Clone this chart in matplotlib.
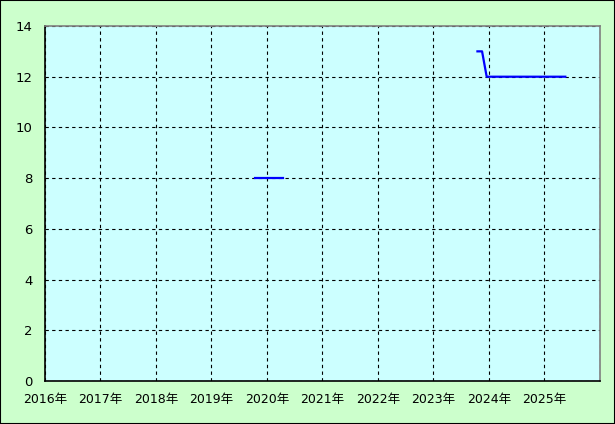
import matplotlib
matplotlib.use("Agg")
import matplotlib.pyplot as plt
import numpy as np

plt.rcParams['font.family'] = ['DejaVu Sans', 'Noto Sans CJK JP']

# monthly series, x = year + (month - 0.5) / 12
months_a = [(2019, 10), (2019, 11), (2019, 12), (2020, 1), (2020, 2), (2020, 3), (2020, 4)]
values_a = [8, 8, 8, 8, 8, 8, 8]

months_b = [(2023, 10), (2023, 11), (2023, 12)] + [(2024, m) for m in range(1, 13)] + [(2025, m) for m in range(1, 6)]
values_b = [13, 13] + [12] * 18

years = list(range(2016, 2027))
year_labels = [f"{y}年" for y in range(2016, 2026)] + [""]
y_ticks = [0, 2, 4, 6, 8, 10, 12, 14]


def to_x(ms):
    return [y + (m - 0.5) / 12 for y, m in ms]


fig = plt.figure(figsize=(6.15, 4.24), dpi=100, facecolor='#CCFFCC')
fig.patches.append(plt.Rectangle((0, 0), 1, 1, transform=fig.transFigure,
                                 fill=False, edgecolor='black', linewidth=1.5))
ax = fig.add_axes([45 / 615, 43 / 424, 555 / 615, 355 / 424])
ax.set_facecolor('#CCFFFF')

ax.plot(to_x(months_a), values_a, color='#0000FF', linewidth=1.6)
ax.plot(to_x(months_b), values_b, color='#0000FF', linewidth=1.6)

ax.set_xlim(2016, 2026)
ax.set_ylim(0, 14)
ax.set_xticks(years)
ax.set_xticklabels(year_labels, fontsize=9)
ax.set_yticks(y_ticks)
ax.set_yticklabels([str(v) for v in y_ticks], fontsize=9.5)
ax.tick_params(length=0)
ax.tick_params(axis='x', pad=9)
ax.tick_params(axis='y', pad=9)

ax.grid(True, color='black', linestyle=(0, (3, 3)), linewidth=0.8)
ax.set_axisbelow(True)

ax.spines['left'].set_color('black')
ax.spines['bottom'].set_color('black')
ax.spines['top'].set_color('#808080')
ax.spines['right'].set_color('#808080')
for s in ax.spines.values():
    s.set_linewidth(1.2)

fig.savefig('out.png', dpi=100, facecolor=fig.get_facecolor())
